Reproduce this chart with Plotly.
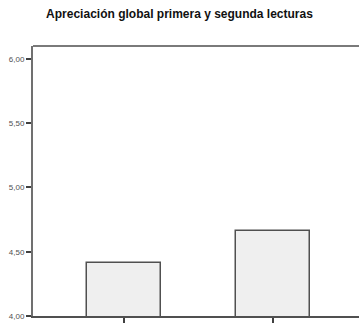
import plotly.graph_objects as go

categories = ["Primera lectura", "Segunda lectura"]
values = [4.41, 4.66]
ytick_vals = [4.0, 4.5, 5.0, 5.5, 6.0]
ytick_text = ["4,00", "4,50", "5,00", "5,50", "6,00"]
title_text = "Apreciación global primera y segunda lecturas"

fig = go.Figure()
fig.add_trace(go.Bar(
    x=[0, 1], y=values, base=0, width=0.5,
    marker=dict(color="#efefef", line=dict(color="#505050", width=1.5)),
    hovertext=categories,
))

fig.update_layout(
    width=359, height=323,
    margin=dict(l=33, r=0, t=46, b=7),
    paper_bgcolor="white", plot_bgcolor="white",
    showlegend=False,
    font=dict(family="Liberation Sans, Arial, sans-serif"),
    title=dict(text="<b>" + title_text + "</b>", x=0.5, xanchor="center",
               y=1 - 14 / 323, yanchor="middle",
               font=dict(size=12, color="#111111")),
    xaxis=dict(range=[-0.612, 1.580], tickvals=[0, 1], ticktext=["", ""],
               showticklabels=False, ticks="outside", ticklen=6, tickwidth=1.5,
               tickcolor="#404040", showline=True, linecolor="#505050",
               linewidth=1.5, showgrid=False, zeroline=False, fixedrange=True),
    yaxis=dict(range=[4.0, 6.1], tickvals=ytick_vals, ticktext=ytick_text,
               ticks="outside", ticklen=5, tickwidth=1.5, tickcolor="#404040",
               tickfont=dict(size=8, color="#505050"),
               showline=True, linecolor="#707070", linewidth=2,
               showgrid=False, zeroline=False, fixedrange=True),
    bargap=0,
)
fig.add_shape(type="line", xref="paper", yref="paper", x0=0, x1=1, y0=1, y1=1,
              line=dict(color="#7a7a7a", width=2))

fig.write_html("out.html", config={"displayModeBar": False},
               post_script="document.body.style.margin='0';document.body.style.overflow='hidden';")
